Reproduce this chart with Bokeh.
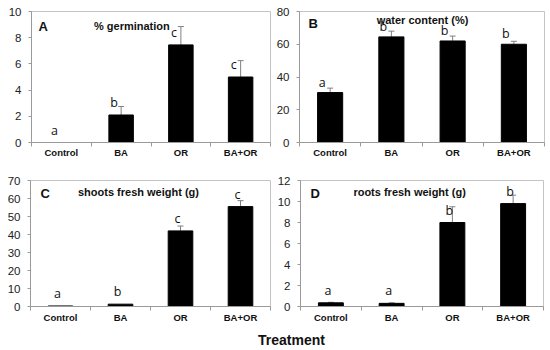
from bokeh.plotting import figure
from bokeh.layouts import column, row
from bokeh.models import ColumnDataSource, Whisker, TeeHead, Label, FixedTicker, Range1d, Div
from bokeh.core.properties import value
from bokeh.embed import file_html
from bokeh.resources import INLINE

treatments = ["Control", "BA", "OR", "BA+OR"]

germination = [0.0, 2.1, 7.45, 5.0]
germination_err = [0.0, 0.65, 1.4, 1.25]
germination_letters = ["a", "b", "c", "c"]
germination_ticks = [0, 2, 4, 6, 8, 10]

water = [30.5, 64.5, 62.0, 60.0]
water_err = [2.7, 3.5, 3.0, 1.8]
water_letters = ["a", "b", "b", "b"]
water_ticks = [0, 20, 40, 60, 80]

shoots = [0.3, 1.3, 42.0, 55.5]
shoots_err = [0.0, 0.0, 2.7, 3.3]
shoots_letters = ["a", "b", "c", "c"]
shoots_ticks = [0, 10, 20, 30, 40, 50, 60, 70]

roots = [0.35, 0.3, 8.0, 9.8]
roots_err = [0.05, 0.05, 1.5, 0.8]
roots_letters = ["a", "a", "b", "b"]
roots_ticks = [0, 2, 4, 6, 8, 10, 12]

FONT = "Liberation Sans"
GREY = "#9a9a9a"


def panel(vals, errs, letters, ticks, title, tag, fw, fh, mb, title_dx, title_dy, tag_dx, tag_dy,
          cat_standoff, letter_dx, letter_dy):
    n = len(treatments)
    xs = [i + 0.5 for i in range(n)]
    p = figure(frame_width=fw, frame_height=fh, output_backend="svg", toolbar_location=None,
               x_range=Range1d(0, n), y_range=Range1d(ticks[0], ticks[-1]),
               min_border_left=mb[0], min_border_right=mb[1], min_border_top=mb[2], min_border_bottom=mb[3])
    p.background_fill_color = "white"
    p.border_fill_color = "white"
    p.outline_line_color = "#c4c4c4"
    p.xgrid.visible = False
    p.ygrid.visible = False

    p.vbar(x=xs, top=vals, width=0.41, fill_color="black", line_color="black")

    wx = [x for x, e in zip(xs, errs) if e > 0]
    wl = [v for v, e in zip(vals, errs) if e > 0]
    wu = [v + e for v, e in zip(vals, errs) if e > 0]
    src = ColumnDataSource(data=dict(x=wx, lower=wl, upper=wu))
    w = Whisker(base="x", lower="lower", upper="upper", source=src, lower_head=None,
                upper_head=TeeHead(size=6, line_color="#808080", line_width=1),
                line_color="#808080", line_width=1)
    p.add_layout(w)

    p.text(x=xs, y=vals, text=letters, x_offset=letter_dx, y_offset=letter_dy,
           text_align="center", text_baseline="bottom",
           text_font=value("Open Sans"), text_font_size="12.5px", text_color="#111111")

    p.add_layout(Label(x=n * title_dx, y=ticks[-1], x_units="data", text=title, x_offset=0, y_offset=-title_dy,
                       text_align="center", text_baseline="middle",
                       text_font=FONT, text_font_style="bold", text_font_size="11px", text_color="#111111"))
    p.add_layout(Label(x=0, y=ticks[-1], text=tag, x_offset=tag_dx, y_offset=-tag_dy,
                       text_align="left", text_baseline="top",
                       text_font=FONT, text_font_style="bold", text_font_size="13px", text_color="#111111"))

    xa = p.xaxis[0]
    xa.axis_label = None
    xa.ticker = FixedTicker(ticks=xs, minor_ticks=list(range(n + 1)))
    xa.major_label_overrides = {x: t for x, t in zip(xs, treatments)}
    xa.major_tick_out = 0
    xa.major_tick_in = 0
    xa.minor_tick_out = 4
    xa.minor_tick_in = 0
    xa.axis_line_color = GREY
    xa.minor_tick_line_color = GREY
    xa.major_label_standoff = cat_standoff
    xa.major_label_text_font = FONT
    xa.major_label_text_font_style = "bold"
    xa.major_label_text_font_size = "9.5px"
    xa.major_label_text_color = "#111111"

    ya = p.yaxis[0]
    ya.axis_label = None
    ya.ticker = FixedTicker(ticks=ticks)
    ya.major_tick_out = 3
    ya.major_tick_in = 0
    ya.minor_tick_out = 0
    ya.minor_tick_in = 0
    ya.axis_line_color = GREY
    ya.major_tick_line_color = GREY
    ya.major_label_standoff = 7
    ya.major_label_text_font = FONT
    ya.major_label_text_font_size = "11.5px"
    ya.major_label_text_color = "#222222"
    return p


pA = panel(germination, germination_err, germination_letters, germination_ticks, "% germination", "A",
           239, 131, (31, 3, 8, 28), 0.42, 14, 7, 7, 0, -7, -4)
pB = panel(water, water_err, water_letters, water_ticks, "water content (%)", "B",
           245, 131, (25, 2, 11, 25), 0.502, 8, 9, 4, 0, -8, -2)
pC = panel(shoots, shoots_err, shoots_letters, shoots_ticks, "shoots fresh weight (g)", "C",
           240, 126, (30, 3, 13, 26), 0.45, 11, 10, 5, 1, -3, -4)
pD = panel(roots, roots_err, roots_letters, roots_ticks, "roots fresh weight (g)", "D",
           243, 126, (27, 2, 13, 26), 0.449, 11, 10, 5, 1, -3, -4)

label = Div(text="Treatment", width=120, height=16, margin=(0, 0, 0, 258),
            styles={"font-family": "'Liberation Sans', Arial, sans-serif", "font-weight": "bold",
                    "font-size": "14px", "color": "#111111", "line-height": "16px"})

layout = column(row(pA, pB), row(pC, pD), label)

open("out.html", "w").write(file_html(layout, INLINE))
